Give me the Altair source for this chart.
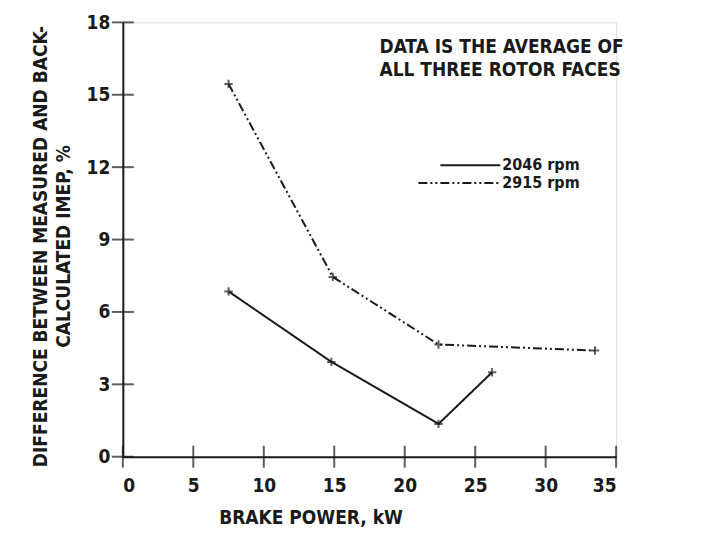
import altair as alt
import pandas as pd

# ---- data ----
power_2046 = [7.5, 14.8, 22.4, 26.2]
imep_2046 = [6.85, 3.93, 1.36, 3.5]
power_2915 = [7.5, 14.9, 22.4, 33.5]
imep_2915 = [15.45, 7.45, 4.65, 4.4]

x_ticks = [0, 5, 10, 15, 20, 25, 30, 35]
y_ticks = [0, 3, 6, 9, 12, 15, 18]

series = ["2046 rpm", "2915 rpm"]
note_lines = ["DATA IS THE AVERAGE OF", "ALL THREE ROTOR FACES"]
x_title = "BRAKE POWER, kW"
y_title = ["DIFFERENCE BETWEEN MEASURED AND BACK-", "CALCULATED IMEP, %"]

FONT = "DejaVu Sans Condensed"
FS = 19
INK = "#1a1a1a"

df = pd.DataFrame(
    {
        "power": power_2046 + power_2915,
        "imep": imep_2046 + imep_2915,
        "speed": [series[0]] * len(power_2046) + [series[1]] * len(power_2915),
    }
)
xt = pd.DataFrame({"power": x_ticks, "imep": [0] * len(x_ticks)})
yt = pd.DataFrame({"imep": y_ticks, "power": [0] * len(y_ticks)})

xs = alt.Scale(domain=[0, 35], nice=False, zero=False)
ys = alt.Scale(domain=[0, 18], nice=False, zero=False)

x_axis = alt.Axis(
    values=x_ticks, ticks=False, grid=False, labelPadding=20,
    domainWidth=2, domainColor=INK, labelColor=INK, labelFont=FONT,
    labelFontSize=FS, labelFontWeight="bold",
    title=x_title, titleFont=FONT, titleFontSize=FS, titleFontWeight="bold",
    titleColor=INK, titleX=188, titleY=52,
)
y_axis = alt.Axis(
    values=y_ticks, ticks=False, grid=False, labelPadding=13,
    domainWidth=2, domainColor=INK, labelColor=INK, labelFont=FONT,
    labelFontSize=FS, labelFontWeight="bold",
    title=y_title, titleFont=FONT, titleFontSize=FS, titleFontWeight="bold",
    titleColor=INK, titleX=-82, titleY=224, titleBaseline="middle",
    titleLineHeight=23,
)

X = alt.X("power:Q", scale=xs, axis=x_axis)
Y = alt.Y("imep:Q", scale=ys, axis=y_axis)

dash_scale = alt.Scale(domain=series, range=[[1, 0], [9, 3, 2, 3, 2, 3]])

lines = alt.Chart(df).mark_line(color=INK, strokeWidth=2).encode(
    x=X, y=Y,
    strokeDash=alt.StrokeDash("speed:N", scale=dash_scale, legend=None),
    detail="speed:N",
)

points = alt.Chart(df).mark_point(
    shape="M-1,0L1,0M0,-1L0,1", filled=False, color=INK, strokeWidth=2, size=70
).encode(x=X, y=Y)

xtick_marks = alt.Chart(xt).mark_tick(
    orient="vertical", size=22, thickness=2, color=INK
).encode(x=X, y=Y)
ytick_marks = alt.Chart(yt).mark_tick(
    orient="horizontal", size=22, thickness=2, color=INK
).encode(x=X, y=Y)

text_style = dict(font=FONT, fontSize=FS, fontWeight="bold", color=INK,
                  align="left", baseline="middle")

note1 = alt.Chart().mark_text(**text_style).encode(
    x=alt.value(257), y=alt.value(25), text=alt.value(note_lines[0]))
note2 = alt.Chart().mark_text(**text_style).encode(
    x=alt.value(257), y=alt.value(48), text=alt.value(note_lines[1]))

leg_style = dict(text_style, fontSize=16)
leg_solid = alt.Chart().mark_rule(color=INK, strokeWidth=2).encode(
    x=alt.value(318), x2=alt.value(378), y=alt.value(143))
leg_dash = alt.Chart().mark_rule(
    color=INK, strokeWidth=2, strokeDash=[9, 3, 2, 3, 2, 3]
).encode(x=alt.value(296), x2=alt.value(378), y=alt.value(161))
leg_t1 = alt.Chart().mark_text(**leg_style).encode(
    x=alt.value(380), y=alt.value(143), text=alt.value(series[0]))
leg_t2 = alt.Chart().mark_text(**leg_style).encode(
    x=alt.value(380), y=alt.value(161), text=alt.value(series[1]))

chart = (
    alt.layer(lines, points, xtick_marks, ytick_marks, note1, note2,
              leg_solid, leg_dash, leg_t1, leg_t2)
    .properties(
        width=494, height=435,
        autosize=alt.AutoSizeParams(type="none"),
        padding={"left": 115, "top": 14, "right": 80, "bottom": 70},
    )
    .configure_view(strokeWidth=0, stroke="transparent")
    .configure(background="white")
)

chart.save("out.html", embed_options={"renderer": "svg", "actions": False})
